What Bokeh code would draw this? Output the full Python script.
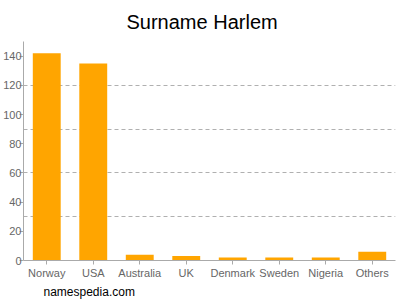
from bokeh.plotting import figure
from bokeh.models import FixedTicker, Range1d, Title, ColumnDataSource
from bokeh.embed import file_html
from bokeh.resources import INLINE

countries = ["Norway", "USA", "Australia", "UK", "Denmark", "Sweden", "Nigeria", "Others"]
counts = [142, 135, 4, 3, 2, 2, 2, 6]
y_ticks = [0, 20, 40, 60, 80, 100, 120, 140]
grid_ticks = [30, 60, 90, 120, 150]
title_text = "Surname Harlem"
footer_text = "namespedia.com"

src = ColumnDataSource(dict(x=countries, top=counts))

p = figure(width=400, height=300, x_range=countries, y_range=Range1d(0, 150),
           output_backend="svg", toolbar_location=None,
           min_border_left=20, min_border_right=5, min_border_top=41, min_border_bottom=39)

p.vbar(x="x", top="top", width=0.6, source=src, color="#ffa500", line_color=None)

p.title.text = title_text
p.title.align = "left"
p.title.offset = 103
p.title.text_font = "Liberation Sans"
p.title.text_font_size = "20px"
p.title.text_font_style = "normal"
p.title.text_color = "#000000"
p.title.standoff = 17

foot = Title(text=footer_text, text_font="Liberation Sans", text_font_size="12px",
             text_font_style="normal", text_color="#000000", offset=20, standoff=3)
p.add_layout(foot, "below")

p.outline_line_color = None
p.xgrid.grid_line_color = None
p.ygrid.ticker = FixedTicker(ticks=grid_ticks)
p.ygrid.grid_line_color = "#b0b0b0"
p.ygrid.grid_line_dash = "4 3"

p.yaxis.ticker = FixedTicker(ticks=y_ticks)
for ax in (p.xaxis[0], p.yaxis[0]):
    ax.axis_line_color = "#aaaaaa"
    ax.major_tick_line_color = "#aaaaaa"
    ax.major_tick_out = 4
    ax.major_tick_in = 0
    ax.minor_tick_line_color = None
    ax.major_label_text_font = "Liberation Sans"
    ax.major_label_text_font_size = "11px"
    ax.major_label_text_color = "#666666"
p.yaxis.major_label_standoff = -2
p.xaxis.major_label_standoff = 2
p.x_range.range_padding = 0

open("out.html", "w").write(file_html(p, INLINE))
